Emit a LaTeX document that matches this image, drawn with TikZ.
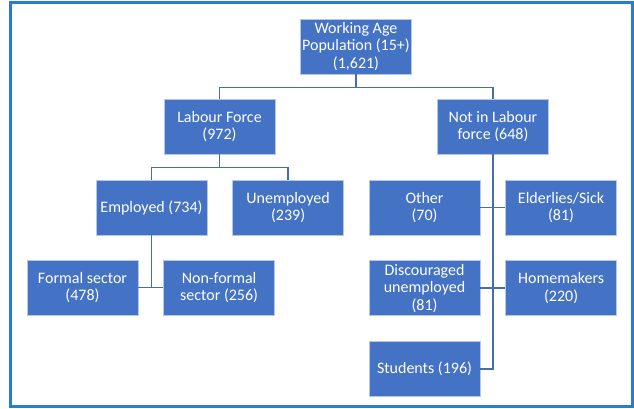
\documentclass[tikz,border=0pt]{standalone}
\usepackage{fontspec}
\setmainfont{Carlito}
\usetikzlibrary{positioning,calc}

\definecolor{boxblue}{RGB}{68,114,196}
\definecolor{edgeblue}{RGB}{180,199,231}
\definecolor{linkblue}{RGB}{70,108,180}
\definecolor{frameblue}{RGB}{40,126,204}

\tikzset{
  catbox/.style={rectangle,fill=boxblue,draw=edgeblue,line width=0.6pt,
    minimum width=111pt,minimum height=55pt,inner sep=1pt,align=center,
    text=white,font=\fontsize{16}{17.5}\selectfont},
  link/.style={draw=linkblue,line width=1.6pt}
}

\begin{document}
\begin{tikzpicture}[x=1pt,y=-1pt,node distance=25pt]

            \useasboundingbox (0,0) rectangle (634,408);
            \draw[frameblue,line width=3pt] (10.5,2.5) rectangle (632.5,406.5);

            \node[catbox] (wap) at (356,46.5) {Working Age\\Population (15+)\\(1,621)};

            \node[catbox] (lf) at (219.5,126.5) {Labour Force\\(972)};

            \node[catbox] (nlf) at (493,126.5) {Not in Labour\\force (648)};

            \node[catbox] (emp) at (151.5,207.5) {Employed (734)};

            \node[catbox] (unemp) [right=of emp] {Unemployed\\(239)};

            \node[catbox] (formal) at (82.5,287.5) {Formal sector\\(478)};

            \node[catbox] (nonformal) [right=of formal] {Non-formal\\sector (256)};

            \node[catbox] (other) at (424.5,207.5) {Other\\(70)};

            \node[catbox] (elder) [right=of other] {Elderlies/Sick\\(81)};

            \node[catbox] (disc) [below=of other] {Discouraged\\unemployed\\(81)};

            \node[catbox] (home) [right=of disc] {Homemakers\\(220)};

            \node[catbox] (stud) [below=of disc] {Students (196)};

            % tree links
            \coordinate (wapbar) at ($(wap.south)+(0,13)$);
            \foreach \to in {lf, nlf}
            {
                \path[link] (wap.south) |- (wapbar) -| (\to.north);
              }
            \coordinate (lfbar) at ($(lf.south)+(0,13)$);
            \foreach \to in {emp, unemp}
            {
                \path[link] (lf.south) |- (lfbar) -| (\to.north);
              }

            \path[link] (emp.south) -- (emp.south |- formal.east);
            \path[link] (formal.east) -- (nonformal.west);

            \path[link] (nlf.south) |- (stud.east);
            \path[link] (other.east) -- (elder.west);
            \path[link] (disc.east) -- (home.west);

        \end{tikzpicture}
\end{document}
